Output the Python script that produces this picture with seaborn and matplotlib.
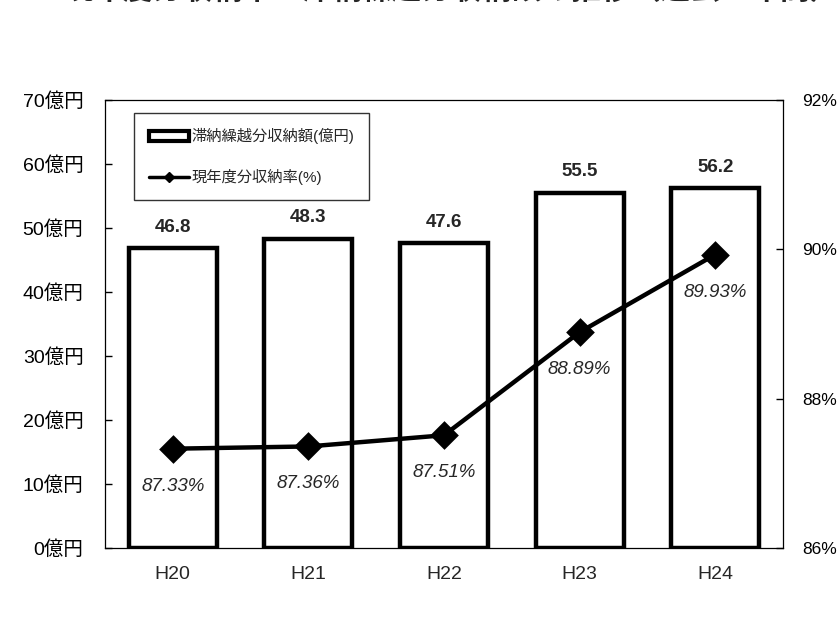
import matplotlib
matplotlib.use("Agg")
import matplotlib.pyplot as plt
import seaborn as sns
import pandas as pd
from matplotlib.patches import Patch
from matplotlib.lines import Line2D

# ---- data ----
years = ["H20", "H21", "H22", "H23", "H24"]
arrears_amount = [46.8, 48.3, 47.6, 55.5, 56.2]          # 億円
current_rate = [87.33, 87.36, 87.51, 88.89, 89.93]       # %
left_ticks = [0, 10, 20, 30, 40, 50, 60, 70]
right_ticks = [86, 88, 90, 92]
title = "現年度分収納率と滞納繰越分収納額の推移（過去５年間）"
bar_label_name = "滞納繰越分収納額(億円)"
line_label_name = "現年度分収納率(%)"

df = pd.DataFrame({"year": years, "amount": arrears_amount, "rate": current_rate})

sns.set_theme(style="white")
plt.rcParams["font.family"] = ["Liberation Sans", "Noto Sans CJK JP", "DejaVu Sans"]

W, H = 838, 619
fig = plt.figure(figsize=(W / 100, H / 100), dpi=100)
fig.patch.set_facecolor("white")
ax = fig.add_axes([105 / W, 1 - 548 / H, (783 - 105) / W, (548 - 100) / H])

sns.barplot(data=df, x="year", y="amount", ax=ax, color="white",
            edgecolor="black", linewidth=3.2, width=0.65, saturation=1)
ax.set_ylim(0, 70)
ax.set_xlim(-0.5, 4.5)
ax.set_yticks(left_ticks)
ax.set_yticklabels([f"{t}億円" for t in left_ticks], fontsize=14)
ax.set_xlabel("")
ax.set_ylabel("")
ax.tick_params(axis="y", direction="in", length=5, width=1, pad=15.5, left=True, colors="black")
ax.tick_params(axis="x", length=0, pad=13, labelsize=14)
for s in ax.spines.values():
    s.set_visible(True)
    s.set_color("black")
    s.set_linewidth(0.9)

ax.bar_label(ax.containers[0], labels=[f"{v:.1f}" for v in arrears_amount],
             padding=9, fontsize=13.5, fontweight="bold")

ax2 = ax.twinx()
sns.pointplot(data=df, x="year", y="rate", ax=ax2, color="black",
              markers="D", linestyles="-", markersize=12, linewidth=3.2)
ax2.set_ylim(86, 92)
ax2.set_xlim(-0.5, 4.5)
ax2.set_yticks(right_ticks)
ax2.set_yticklabels([f"{t}%" for t in right_ticks], fontsize=12.5)
ax2.set_ylabel("")
ax2.set_xlabel("")
ax2.tick_params(axis="y", direction="in", length=5, width=1, pad=13.5, right=True, colors="black")
for s in ax2.spines.values():
    s.set_visible(False)

for i, v in enumerate(current_rate):
    ax2.annotate(f"{v:.2f}%", (i, v), xytext=(0, -27), textcoords="offset points",
                 ha="center", va="center", fontsize=13.5, style="italic")

handles = [
    Patch(facecolor="white", edgecolor="black", linewidth=3),
    Line2D([0], [0], color="black", lw=2.5, marker="D", markersize=5),
]
leg = fig.legend(handles, [bar_label_name, line_label_name],
                 loc="upper left", bbox_to_anchor=(134 / W, 1 - 113 / H),
                 borderaxespad=0, fontsize=11, frameon=True, fancybox=False,
                 edgecolor="black", handlelength=2.6, handleheight=0.55,
                 handletextpad=0.15, labelspacing=1.6, borderpad=1.0)
leg.get_frame().set_linewidth(1.0)

fig.text(63 / W, 1 + 1 / H, title, ha="left", va="baseline", fontsize=21.5,
         fontweight="bold")

fig.savefig("out.png", dpi=100, facecolor="white")
